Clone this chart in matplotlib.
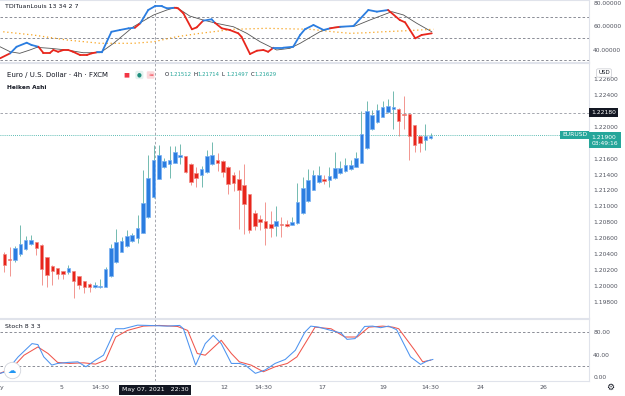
import numpy as np
import matplotlib
matplotlib.use('Agg')
import matplotlib.pyplot as plt
import matplotlib.transforms as mtransforms
from matplotlib.collections import LineCollection

# Heiken Ashi candles (EURUSD 4h)
ha_open = [1.2040, 1.2034, 1.2033, 1.2040, 1.2046, 1.2052, 1.2055, 1.2051, 1.2036, 1.2025,
           1.2022, 1.2019, 1.2017, 1.2019, 1.2012, 1.2006, 1.2002, 1.1998, 1.1998, 1.1999,
           1.2012, 1.2030, 1.2043, 1.2050, 1.2056, 1.2060, 1.2067, 1.2086, 1.2112, 1.2135,
           1.2150, 1.2153, 1.2155, 1.2162, 1.2163, 1.2153, 1.2142, 1.2139, 1.2143, 1.2153,
           1.2159, 1.2157, 1.2150, 1.2139, 1.2134, 1.2127, 1.2115, 1.2092, 1.2084, 1.2082,
           1.2078, 1.2075, 1.2078, 1.2078, 1.2077, 1.2079, 1.2092, 1.2107, 1.2121, 1.2131,
           1.2135, 1.2133, 1.2136, 1.2142, 1.2144, 1.2147, 1.2150, 1.2155, 1.2173, 1.2197,
           1.2206, 1.2213, 1.2219, 1.2223, 1.2223, 1.2216, 1.2216, 1.2202, 1.2189, 1.2184,
           1.2186]
ha_high = [1.2043, 1.2049, 1.2050, 1.2076, 1.2063, 1.2064, 1.2055, 1.2052, 1.2036, 1.2026,
           1.2022, 1.2019, 1.2026, 1.2019, 1.2012, 1.2006, 1.2003, 1.2005, 1.2009, 1.2024,
           1.2052, 1.2072, 1.2061, 1.2070, 1.2067, 1.2089, 1.2146, 1.2165, 1.2177, 1.2177,
           1.2161, 1.2176, 1.2176, 1.2178, 1.2164, 1.2154, 1.2149, 1.2151, 1.2171, 1.2181,
           1.2167, 1.2158, 1.2151, 1.2143, 1.2146, 1.2153, 1.2116, 1.2096, 1.2089, 1.2106,
           1.2094, 1.2100, 1.2086, 1.2083, 1.2086, 1.2129, 1.2137, 1.2147, 1.2146, 1.2151,
           1.2140, 1.2149, 1.2169, 1.2157, 1.2161, 1.2159, 1.2169, 1.2220, 1.2233, 1.2222,
           1.2229, 1.2233, 1.2235, 1.2245, 1.2224, 1.2239, 1.2217, 1.2203, 1.2190, 1.2204,
           1.2192]
ha_low = [1.2017, 1.2012, 1.2030, 1.2038, 1.2045, 1.2051, 1.2039, 1.2001, 1.1999, 1.2001,
          1.2009, 1.2009, 1.2015, 1.1985, 1.1996, 1.1991, 1.1992, 1.1997, 1.1997, 1.1998,
          1.2011, 1.2029, 1.2042, 1.2049, 1.2055, 1.2054, 1.2066, 1.2085, 1.2111, 1.2134,
          1.2148, 1.2136, 1.2154, 1.2153, 1.2142, 1.2127, 1.2124, 1.2125, 1.2142, 1.2152,
          1.2144, 1.2137, 1.2115, 1.2119, 1.2071, 1.2065, 1.2067, 1.2070, 1.2070, 1.2051,
          1.2061, 1.2063, 1.2062, 1.2074, 1.2076, 1.2078, 1.2091, 1.2106, 1.2120, 1.2130,
          1.2128, 1.2125, 1.2135, 1.2141, 1.2143, 1.2146, 1.2149, 1.2154, 1.2172, 1.2196,
          1.2205, 1.2212, 1.2218, 1.2197, 1.2188, 1.2197, 1.2159, 1.2169, 1.2169, 1.2171,
          1.2185]
ha_close = [1.2026, 1.2032, 1.2047, 1.2053, 1.2058, 1.2058, 1.2047, 1.2021, 1.2014, 1.2019,
            1.2015, 1.2015, 1.2022, 1.2006, 1.2001, 1.1998, 1.1998, 1.2001, 1.1999, 1.2021,
            1.2047, 1.2055, 1.2057, 1.2063, 1.2064, 1.2073, 1.2104, 1.2136, 1.2159, 1.2165,
            1.2157, 1.2158, 1.2168, 1.2165, 1.2143, 1.2131, 1.2136, 1.2147, 1.2163, 1.2165,
            1.2154, 1.2143, 1.2128, 1.2129, 1.2120, 1.2103, 1.2070, 1.2075, 1.2080, 1.2073,
            1.2073, 1.2081, 1.2076, 1.2075, 1.2080, 1.2106, 1.2123, 1.2133, 1.2140, 1.2140,
            1.2132, 1.2138, 1.2148, 1.2148, 1.2152, 1.2152, 1.2161, 1.2191, 1.2220, 1.2215,
            1.2221, 1.2225, 1.2227, 1.2225, 1.2208, 1.2215, 1.2188, 1.2177, 1.2180, 1.2188,
            1.2189]

# TDI (bar position, value)
rsi_x = [-0.8, 1.1, 2.3, 4.2, 5.1, 6.4, 7.3, 8.6, 9.2, 10.1, 11.1, 12.0, 12.9, 14.2, 15.5,
         16.4, 17.3, 18.3, 20.1, 21.7, 23.3, 24.5, 25.5, 27.0, 28.3, 29.5, 30.5, 32.0, 32.6,
         33.6, 35.2, 36.1, 37.3, 38.9, 39.5, 40.8, 42.3, 43.9, 44.5, 46.1, 47.4, 48.6, 49.5,
         50.5, 52.3, 54.2, 55.5, 56.4, 58.0, 59.9, 61.1, 63.0, 65.5, 68.3, 69.9, 72.0, 74.2,
         75.2, 77.1, 78.3, 80.2]
rsi_v = [33.2, 37.4, 42.9, 46.3, 44.4, 42.9, 37.9, 37.9, 40.2, 38.7, 40.2, 40.2, 38.7, 36.0,
         36.0, 37.4, 38.2, 38.2, 55.5, 57.0, 58.4, 58.9, 62.6, 73.8, 77.1, 77.1, 75.2, 75.7,
         75.2, 71.0, 57.6, 59.2, 64.8, 66.0, 63.1, 58.4, 57.0, 54.2, 51.3, 36.8, 39.6, 40.2,
         38.7, 42.1, 42.1, 42.9, 52.8, 57.6, 61.2, 57.0, 58.4, 59.7, 60.3, 73.8, 72.4, 73.8,
         65.4, 63.4, 50.0, 52.8, 54.2]
sig_x = [-0.8, 1.1, 2.9, 4.8, 6.1, 8.6, 11.7, 14.8, 18.0, 20.5, 24.2, 28.0, 30.5, 32.3, 34.8,
         37.3, 39.8, 43.0, 45.5, 48.0, 51.1, 53.6, 55.5, 59.2, 61.7, 65.8, 68.6, 72.7, 74.9,
         77.4, 80.2]
sig_v = [42.9, 38.7, 37.4, 40.2, 42.4, 41.6, 40.2, 37.9, 37.9, 45.8, 59.7, 69.6, 73.8, 76.1,
         68.7, 65.4, 62.6, 59.7, 54.2, 47.1, 40.2, 41.6, 45.8, 55.5, 59.2, 60.3, 65.4, 72.4,
         69.6, 62.6, 55.5]
base_x = [-0.2, 5.4, 11.7, 18.0, 24.2, 28.0, 32.3, 36.7, 43.0, 49.2, 57.4, 61.7, 64.9, 68.0,
          71.1, 75.5, 80.5]
base_v = [55.5, 52.8, 48.6, 45.8, 45.8, 47.1, 51.3, 54.2, 57.6, 58.4, 57.6, 55.5, 54.2, 54.7,
          55.5, 56.4, 57.6]

# Stoch 8 3 3
k_x = [-0.8, 0.3, 2.6, 5.2, 6.3, 7.4, 8.9, 10.0, 11.9, 13.8, 15.3, 17.1, 18.6, 20.9, 22.4,
       25.0, 26.9, 30.6, 32.9, 33.6, 35.9, 37.7, 39.2, 40.7, 42.6, 44.1, 45.2, 47.1, 48.9,
       50.8, 52.7, 54.6, 56.4, 57.5, 59.0, 61.3, 63.2, 64.3, 65.8, 67.6, 69.1, 70.6, 72.1,
       73.6, 76.2, 78.1, 79.4, 80.4]
k_v = [7.0, 9.8, 36.0, 59.3, 57.6, 36.0, 21.5, 24.4, 26.2, 27.2, 18.5, 30.2, 38.9, 85.5, 85.5,
       91.8, 91.3, 90.1, 91.3, 85.5, 21.5, 59.3, 73.8, 59.3, 24.4, 24.4, 21.5, 7.0, 12.7, 24.4,
       31.4, 47.6, 79.6, 90.1, 88.3, 82.5, 77.8, 66.8, 68.1, 89.5, 90.1, 87.3, 90.1, 83.8,
       36.0, 22.7, 29.0, 31.4]
d_x = [-0.8, 1.4, 3.7, 6.3, 8.2, 10.0, 12.3, 14.9, 17.1, 19.0, 20.9, 23.1, 26.1, 29.1, 32.5,
       34.4, 36.2, 37.7, 40.7, 42.6, 44.1, 46.3, 48.6, 50.8, 53.1, 54.9, 56.8, 58.3, 61.3,
       63.9, 66.2, 68.4, 71.0, 72.9, 74.0, 77.0, 78.5, 80.0]
d_v = [7.0, 15.7, 38.9, 53.4, 41.9, 26.2, 24.4, 25.5, 23.2, 30.2, 70.9, 82.5, 90.1, 91.3, 89.5,
       82.5, 41.9, 38.9, 65.1, 41.9, 27.2, 21.5, 9.8, 18.5, 24.4, 36.0, 65.1, 88.3, 85.5, 70.9,
       70.9, 88.3, 90.1, 88.3, 85.5, 47.6, 27.2, 30.2]

time_pos = [-0.43, 10.8, 17.95, 41.2, 48.5, 59.6, 71.05, 79.9, 89.25, 101.1]
time_lbl = ['y', '5', '14:30', '12', '14:30', '17', '19', '14:30', '24', '26']
price_ticks = [1.198, 1.200, 1.202, 1.204, 1.206, 1.208, 1.210, 1.212, 1.214, 1.216, 1.220, 1.224, 1.226]

last_price = 1.2190
cross_price = 1.2218
cross_x = 28.3

W, H = 625, 396
BLUE = '#2b7de0'
RED = '#e8261c'
GRID = '#e0e3eb'
TXT = '#131722'
AX_TXT = '#50535e'
plt.rcParams['font.family'] = ['DejaVu Sans']

fig = plt.figure(figsize=(W / 100, H / 100), dpi=100)
fig.patch.set_facecolor('white')


def box(y0, y1):
    return [0, 1 - y1 / H, 589 / W, (y1 - y0) / H]


ax_tdi = fig.add_axes(box(0, 62))
ax = fig.add_axes(box(62.5, 318))
ax_st = fig.add_axes(box(318.5, 381))

xlim = (-0.81, 109.7)
for a in (ax_tdi, ax, ax_st):
    a.set_xlim(*xlim)
    a.set_facecolor('white')
    for s in a.spines.values():
        s.set_color(GRID)
        s.set_linewidth(0.8)
    a.spines['left'].set_visible(False)
    a.yaxis.tick_right()
    a.tick_params(axis='y', length=0, pad=3, labelsize=4.3, labelcolor=AX_TXT)
    a.tick_params(axis='x', length=0)
    a.axvline(cross_x, color='#9598a1', lw=0.6, dashes=(3, 2.5))
ax_tdi.set_xticks([])
ax.set_xticks([])

# ---- TDI panel
ax_tdi.set_ylim(30.1, 82.2)
for lv in (68, 50, 32):
    ax_tdi.axhline(lv, color='#787b86', lw=0.6, dashes=(3, 2.5))
ax_tdi.plot(base_x, base_v, color='#f7a21b', lw=0.9, ls=(0, (1, 2.2)))
ax_tdi.plot(sig_x, sig_v, color='#555555', lw=0.6)
rx = np.array(rsi_x)
rv = np.array(rsi_v)
segs = [[(rx[i], rv[i]), (rx[i + 1], rv[i + 1])] for i in range(len(rx) - 1)]
mid_x = (rx[:-1] + rx[1:]) / 2
mid_v = (rv[:-1] + rv[1:]) / 2
cols = [BLUE if mv >= np.interp(mx, sig_x, sig_v) else RED for mx, mv in zip(mid_x, mid_v)]
ax_tdi.add_collection(LineCollection(segs, colors=cols, linewidths=1.3, capstyle='round'))
ax_tdi.set_yticks([40, 60, 80])
ax_tdi.set_yticklabels(['%.5f' % v for v in (40, 60, 80)])
ax_tdi.text(0.008, 0.9, 'TDITuanLouis 13 34 2 7', transform=ax_tdi.transAxes,
            fontsize=4.5, color=TXT, va='center')

# ---- main candles
ax.set_ylim(1.19594, 1.22812)
idx = np.arange(len(ha_open))
o = np.array(ha_open)
c = np.array(ha_close)
up = c >= o
for i in idx:
    wc = '#4fa99c' if up[i] else '#ef7b73'
    ax.vlines(i, ha_low[i], ha_high[i], color=wc, lw=0.7, alpha=0.8, zorder=2)
body_h = np.maximum(np.abs(c - o), 0.00012)
ax.bar(idx[up], body_h[up], bottom=np.minimum(o, c)[up], width=0.66,
       color=BLUE, edgecolor='#79b1f2', linewidth=0.5, zorder=3)
ax.bar(idx[~up], body_h[~up], bottom=np.minimum(o, c)[~up], width=0.66,
       color=RED, edgecolor='#f08a84', linewidth=0.5, zorder=3)
ax.axhline(cross_price, color='#9598a1', lw=0.6, dashes=(3, 2.5))
ax.axhline(last_price, color='#26a69a', lw=0.6, ls=(0, (1, 1.5)))
ax.set_yticks(price_ticks)
ax.set_yticklabels(['%.5f' % v for v in price_ticks])

blend = mtransforms.blended_transform_factory(ax.transAxes, ax.transData)
ax.text(1.004, cross_price, '1.22180', transform=blend, fontsize=4.3, color='white',
        va='center', ha='left',
        bbox=dict(boxstyle='square,pad=0.35', fc='#131722', ec='none'))
ax.text(1.004, last_price, '1.21900\n03:49:16', transform=blend, fontsize=4.3, color='white',
        va='top', ha='left', linespacing=1.15,
        bbox=dict(boxstyle='square,pad=0.45', fc='#26a69a', ec='none'))
ax.text(0.997, last_price, 'EURUSD', transform=blend, fontsize=4.3, color='white',
        va='center', ha='right',
        bbox=dict(boxstyle='square,pad=0.3', fc='#26a69a', ec='none'))
fig.text(604 / W, 1 - 73 / H, 'USD', fontsize=4, color=TXT, ha='center', va='center',
         bbox=dict(boxstyle='round,pad=0.3', fc='white', ec='#c9cbd1', lw=0.5))

# header texts
fig.text(7 / W, 1 - 75 / H, 'Euro / U.S. Dollar \u00b7 4h \u00b7 FXCM', fontsize=5, color=TXT,
         va='center')
fig.text(7 / W, 1 - 87.5 / H, 'Heiken Ashi', fontsize=4.2, color=TXT, va='center',
         fontweight='bold')
fig.text(123 / W, 1 - 75 / H, '\u25a0', fontsize=4.5, color='#f23645', va='center')
fig.text(137 / W, 1 - 75 / H, '\u25cf', fontsize=4, color='#1f8f7e', va='center',
         bbox=dict(boxstyle='round,pad=0.3', fc='#e3f2ef', ec='none'))
fig.text(148 / W, 1 - 75 / H, '\u2248', fontsize=4.5, color='#f23645', va='center',
         bbox=dict(boxstyle='round,pad=0.2', fc='#fbd9dc', ec='none'))
ohlc = [('O', '1.21512', 165), ('H', '1.21714', 193.5), ('L', '1.21497', 222), ('C', '1.21629', 250.5)]
for key, val, px in ohlc:
    fig.text(px / W, 1 - 75 / H, key, fontsize=3.9, color=TXT, va='center')
    fig.text((px + 4.2) / W, 1 - 75 / H, val, fontsize=3.9, color='#26a69a', va='center')

# ---- stoch panel
ax_st.set_ylim(-6.5, 103.5)
for lv in (80, 20):
    ax_st.axhline(lv, color='#787b86', lw=0.6, dashes=(3, 2.5))
ax_st.plot(d_x, d_v, color='#f0564c', lw=0.75)
ax_st.plot(k_x, k_v, color='#4c93f0', lw=0.75)
ax_st.set_yticks([0, 40, 80])
ax_st.set_yticklabels(['%.2f' % v for v in (0, 40, 80)])
ax_st.set_xticks(time_pos)
ax_st.set_xticklabels(time_lbl)
ax_st.tick_params(axis='x', labelsize=4.5, labelcolor=AX_TXT, pad=3)
ax_st.text(0.008, 0.87, 'Stoch 8 3 3', transform=ax_st.transAxes, fontsize=4.5, color=TXT,
           va='center')
ax_st.text(cross_x, -0.1, 'May 07, 2021   22:30', transform=mtransforms.blended_transform_factory(
    ax_st.transData, ax_st.transAxes), fontsize=4.5, color='white', ha='center', va='top',
    bbox=dict(boxstyle='square,pad=0.4', fc='#131722', ec='none'), zorder=5)
ax_st.scatter([1.45], [12.7], s=140, facecolor='white', edgecolor='#d1d4dc', lw=0.6, zorder=5,
              clip_on=False)
ax_st.text(1.45, 12.7, '\u2601', fontsize=6, color='#2196f3', ha='center', va='center',
           zorder=6)
fig.text(610 / W, 1 - 387 / H, '\u2699', fontsize=6.5, color=TXT, ha='center', va='center')

fig.savefig('out.png', dpi=100, facecolor='white')
